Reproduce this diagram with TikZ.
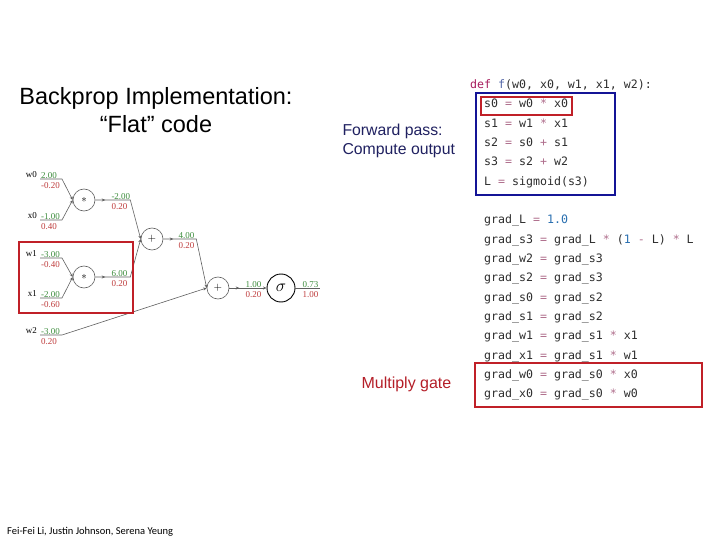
\documentclass[tikz,border=0pt]{standalone}
\usepackage{fontspec}
\setmainfont{Liberation Sans}
\newfontfamily\codefont{DejaVu Sans Mono}
\newfontfamily\graphfont{Liberation Serif}
\newfontfamily\footfont{Carlito}
\usepackage{tikz}
\usetikzlibrary{arrows.meta, positioning, calc, decorations.markings}
\usepackage{xcolor}
\definecolor{wiregray}{RGB}{95,95,95}
\definecolor{fwdgreen}{RGB}{60,140,60}
\definecolor{bwdred}{RGB}{190,60,60}
\definecolor{boxred}{RGB}{192,32,40}
\definecolor{boxblue}{RGB}{20,20,150}
\definecolor{fwdnavy}{RGB}{31,32,96}
\definecolor{mulred}{RGB}{180,30,40}
\definecolor{codetext}{RGB}{45,45,45}
\definecolor{codekw}{RGB}{167,29,93}
\definecolor{codefn}{RGB}{80,100,165}
\definecolor{codeop}{RGB}{175,110,140}
\definecolor{codenum}{RGB}{40,110,175}
\newcommand{\kw}[1]{\textcolor{codekw}{#1}}
\newcommand{\fn}[1]{\textcolor{codefn}{#1}}
\newcommand{\op}[1]{\textcolor{codeop}{#1}}
\newcommand{\cnum}[1]{\textcolor{codenum}{#1}}

\begin{document}
\begin{tikzpicture}[x=1pt, y=-1pt,
  gate/.style={circle, draw=wiregray, line width=0.6pt, minimum size=22pt, inner sep=0pt,
      font=\fontsize{11}{11}\selectfont},
  wire/.style={draw=wiregray, line width=0.6pt, -{Stealth[length=3.5pt,width=3pt]}},
  outmark/.style={postaction={decorate}, decoration={markings,
      mark=at position 10pt with {\arrow{Stealth[length=3.5pt,width=3pt]}}}},
  valfont/.style={font=\graphfont\fontsize{9}{9}\selectfont},
  fwd/.style={valfont, anchor=south west, inner sep=1pt, yshift=-0.5pt, text=fwdgreen},
  bwd/.style={valfont, anchor=north west, inner sep=1pt, yshift=-2.5pt, text=bwdred},
  inlabel/.style={valfont, anchor=south east, inner sep=1pt, xshift=-2pt},
  codeline/.style={anchor=base west, inner sep=0pt, text=codetext,
      font=\codefont\fontsize{11.6}{14}\selectfont},
  redbox/.style={draw=boxred, line width=2pt},
]
  \useasboundingbox (0,0) rectangle (720,540);

  % title
  \node[font=\fontsize{23.5}{28}\selectfont, align=center] (title) at (156,110)
    {Backprop Implementation:\\“Flat” code};

  % circuit: gates
  \node[gate] (mul0) at (84,200) {$\ast$};
  \node[gate] (mul1) at (84,277) {$\ast$};
  \node[gate] (add0) at (152,239) {$+$};
  \node[gate] (add1) at (218,288) {$+$};
  \node[circle, draw=black, line width=0.9pt, minimum size=28pt, inner sep=0pt,
        font=\fontsize{16}{16}\selectfont] (sig) at (281,288) {$\sigma$};

  % circuit: inputs
  \coordinate (w0in) at (40,179);
  \coordinate (x0in) at (40,220);
  \coordinate (w1in) at (40,258);
  \coordinate (x1in) at (40,298);
  \coordinate (w2in) at (40,335);
  \node[inlabel] (w0lab) at (w0in) {w0};
  \node[inlabel] (x0lab) at (x0in) {x0};
  \node[inlabel] (w1lab) at (w1in) {w1};
  \node[inlabel] (x1lab) at (x1in) {x1};
  \node[inlabel] (w2lab) at (w2in) {w2};
  \node[fwd] (w0f) at (w0in) {2.00};   \node[bwd] (w0b) at (w0in) {-0.20};
  \node[fwd] (x0f) at (x0in) {-1.00};  \node[bwd] (x0b) at (x0in) {0.40};
  \node[fwd] (w1f) at (w1in) {-3.00};  \node[bwd] (w1b) at (w1in) {-0.40};
  \node[fwd] (x1f) at (x1in) {-2.00};  \node[bwd] (x1b) at (x1in) {-0.60};
  \node[fwd] (w2f) at (w2in) {-3.00};  \node[bwd] (w2b) at (w2in) {0.20};

  % circuit: wires
  \draw[wire] (w0in) -- ++(22,0) -- (mul0.west);
  \draw[wire] (x0in) -- ++(22,0) -- (mul0.west);
  \draw[wire] (w1in) -- ++(22,0) -- (mul1.west);
  \draw[wire] (x1in) -- ++(22,0) -- (mul1.west);
  \draw[wire] (w2in) -- ++(22,0) -- (add1.west);
  \draw[wire, outmark] (mul0.east) -- ++(35,0) -- (add0.west);
  \draw[wire, outmark] (mul1.east) -- ++(35,0) -- (add0.west);
  \draw[wire, outmark] (add0.east) -- ++(33,0) -- (add1.west);
  \draw[wire, outmark] (add1.east) -- (sig.west);
  \coordinate (Lout) at ($(sig.east)+(25,0)$);
  \draw[wiregray, line width=0.6pt] (sig.east) -- (Lout);

  % circuit: gate values
  \node[fwd] (s0f) at ($(mul0.east)+(15,0)$) {-2.00};
  \node[bwd] (s0b) at ($(mul0.east)+(15,0)$) {0.20};
  \node[fwd] (s1f) at ($(mul1.east)+(15,0)$) {6.00};
  \node[bwd] (s1b) at ($(mul1.east)+(15,0)$) {0.20};
  \node[fwd] (s2f) at ($(add0.east)+(14,0)$) {4.00};
  \node[bwd] (s2b) at ($(add0.east)+(14,0)$) {0.20};
  \node[fwd] (s3f) at ($(add1.east)+(15,0)$) {1.00};
  \node[bwd] (s3b) at ($(add1.east)+(15,0)$) {0.20};
  \node[fwd] (Lf) at ($(sig.east)+(6,0)$) {0.73};
  \node[bwd] (Lb) at ($(sig.east)+(6,0)$) {1.00};

  \draw[redbox] (19,242) rectangle (133,313);

  % side notes
  \node[anchor=west, align=left, text=fwdnavy, font=\fontsize{15.8}{19.5}\selectfont]
    (fwdnote) at (339,141) {Forward pass:\\Compute output};
  \node[anchor=west, text=mulred, font=\fontsize{16}{16}\selectfont]
    (mulnote) at (358,384) {Multiply gate};

  % code: forward
  \node[codeline] (def) at (470,89) {\kw{def} \fn{f}(w0, x0, w1, x1, w2):};
  \node[codeline] (c0) at (484,108)   {s0 \op{=} w0 \op{*} x0};
  \node[codeline] (c1) at (484,127.3) {s1 \op{=} w1 \op{*} x1};
  \node[codeline] (c2) at (484,146.6) {s2 \op{=} s0 \op{+} s1};
  \node[codeline] (c3) at (484,165.9) {s3 \op{=} s2 \op{+} w2};
  \node[codeline] (c4) at (484,185.2) {L \op{=} sigmoid(s3)};
  \draw[draw=boxblue, line width=2pt] (476,93) rectangle (615,195);
  \draw[redbox] (481,97) rectangle (572,115);

  % code: backward
  \node[codeline] (g0) at (484,224)   {grad\_L \op{=} \cnum{1.0}};
  \node[codeline] (g1) at (484,243.3) {grad\_s3 \op{=} grad\_L \op{*} (\cnum{1} \op{-} L) \op{*} L};
  \node[codeline] (g2) at (484,262.6) {grad\_w2 \op{=} grad\_s3};
  \node[codeline] (g3) at (484,281.9) {grad\_s2 \op{=} grad\_s3};
  \node[codeline] (g4) at (484,301.2) {grad\_s0 \op{=} grad\_s2};
  \node[codeline] (g5) at (484,320.5) {grad\_s1 \op{=} grad\_s2};
  \node[codeline] (g6) at (484,339.8) {grad\_w1 \op{=} grad\_s1 \op{*} x1};
  \node[codeline] (g7) at (484,359.1) {grad\_x1 \op{=} grad\_s1 \op{*} w1};
  \node[codeline] (g8) at (484,378.4) {grad\_w0 \op{=} grad\_s0 \op{*} x0};
  \node[codeline] (g9) at (484,397.7) {grad\_x0 \op{=} grad\_s0 \op{*} w0};
  \draw[redbox] (475,363) rectangle (702,407);

  % footer
  \node[anchor=base west, inner sep=0pt, font=\footfont\fontsize{10.5}{12}\selectfont]
    (credit) at (7,534) {Fei-Fei Li, Justin Johnson, Serena Yeung};
\end{tikzpicture}
\end{document}
